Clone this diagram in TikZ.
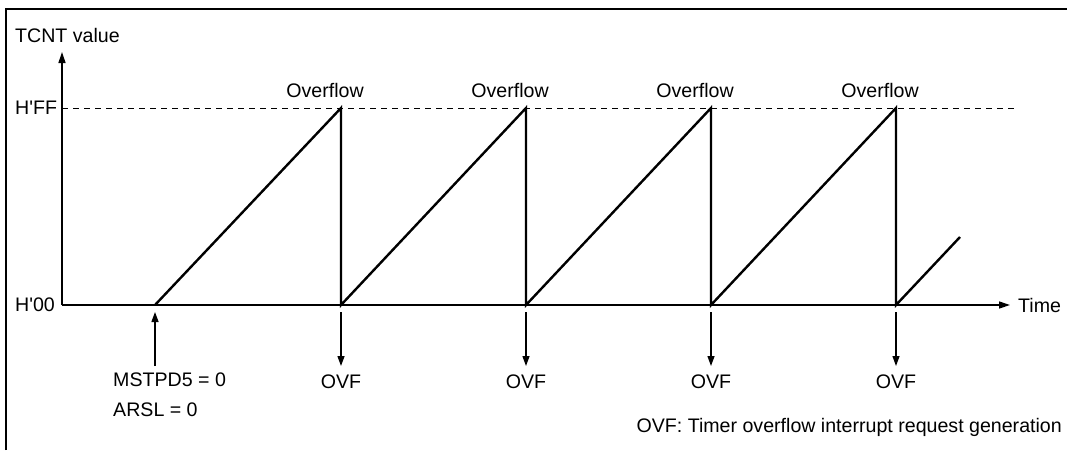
\documentclass[tikz,border=0pt]{standalone}
\usepackage{fontspec}
\setmainfont{Liberation Sans}
\usetikzlibrary{arrows.meta}
\begin{document}
\begin{tikzpicture}[x=1pt,y=-1pt,
  lbl/.style={inner sep=0pt,font=\fontsize{19.6}{23}\selectfont},
  axis/.style={line width=1.3pt},
  ramp/.style={line width=2.4pt},
  arr/.style={line width=1.3pt,-{Triangle[length=10pt,width=7pt]}},
  dash line/.style={line width=1pt,dash pattern=on 6pt off 5pt}]
\useasboundingbox (0,0) rectangle (1067,450);
% frame
\draw[line width=2.2pt] (6,450) -- (6,9) -- (1067,9);
% axes
\coordinate (O) at (62,305);
\coordinate (ytip) at (62,52);
\coordinate (xtip) at (1010,305);
\coordinate (dstart) at (62,108);
\coordinate (dend) at (1014,108);
\draw[axis,-{Triangle[length=11pt,width=7pt]}] (O) -- (ytip);
\draw[axis,-{Triangle[length=11pt,width=7pt]}] (O) -- (xtip);
\draw[dash line] (dstart) -- (dend);
% labels
\node[lbl,anchor=west] (tcnt) at (15,35) {TCNT value};
\node[lbl,anchor=west] (hff) at (15,108) {H\textquotesingle FF};
\node[lbl,anchor=west] (h00) at (15,305) {H\textquotesingle 00};
\node[lbl,anchor=west] (time) at (1018,305) {Time};
% sawtooth
\coordinate (s0) at (155,305);
\foreach \i/\x in {1/341,2/526,3/711,4/896}{
  \coordinate (p\i) at (\x,108);
  \coordinate (b\i) at (\x,305);
}
\coordinate (e) at (960,237);
\draw[ramp,line join=miter] (s0) -- (p1) -- (b1) -- (p2) -- (b2) -- (p3) -- (b3) -- (p4) -- (b4) -- (e);
% overflow labels and OVF arrows
\foreach \i/\x in {1/341,2/526,3/711,4/896}{
  \node[lbl] (of\i) at (\x-16,90) {Overflow};
  \coordinate (as\i) at (\x,312);
  \coordinate (ae\i) at (\x,366);
  \draw[arr] (as\i) -- (ae\i);
  \node[lbl] (ovf\i) at (\x,382) {OVF};
}
% start arrow
\coordinate (us) at (155,366);
\coordinate (ue) at (155,312);
\draw[arr] (us) -- (ue);
\node[lbl,anchor=west] (mstp) at (113,380) {MSTPD5 = 0};
\node[lbl,anchor=west] (arsl) at (113,410) {ARSL = 0};
\node[lbl,anchor=east] (note) at (1062,427) {OVF: Timer overflow interrupt request generation};
\end{tikzpicture}
\end{document}
